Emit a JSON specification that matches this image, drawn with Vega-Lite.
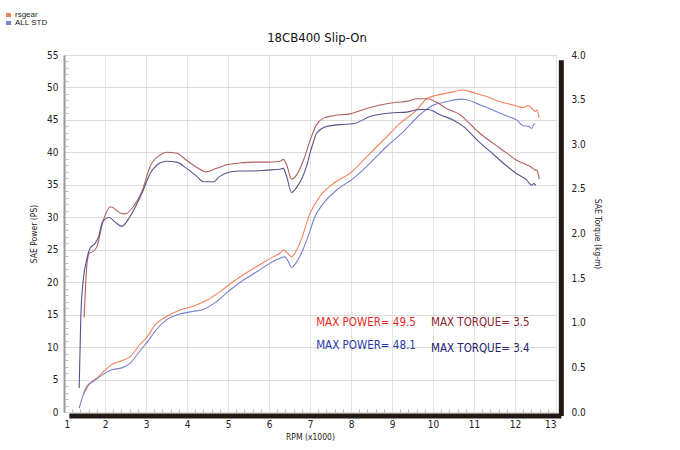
{
  "$schema": "https://vega.github.io/schema/vega-lite/v6.json",
  "width": 492,
  "height": 357,
  "autosize": "none",
  "padding": {"left": 64, "top": 55, "right": 124, "bottom": 38},
  "background": "white",
  "title": {"text": "18CB400 Slip-On", "font": "DejaVu Sans Condensed, DejaVu Sans Mono, sans-serif", "fontSize": 13, "fontWeight": "normal", "color": "#111111", "offset": 0, "dy": 34, "dx": 7, "anchor": "middle"},
  "config": {"view": {"stroke": "#aaaaaa", "strokeWidth": 1}, "font": "DejaVu Sans Condensed, DejaVu Sans Mono, sans-serif"},
  "datasets": {
    "power": [
      {"rpm": 1.47, "ps": 2.6, "series": "rsgear"}, {"rpm": 1.55, "ps": 3.6, "series": "rsgear"}, {"rpm": 1.63, "ps": 4.4, "series": "rsgear"}, {"rpm": 1.8, "ps": 5.2, "series": "rsgear"}, {"rpm": 1.96, "ps": 6.2, "series": "rsgear"}, {"rpm": 2.16, "ps": 7.3, "series": "rsgear"}, {"rpm": 2.41, "ps": 7.9, "series": "rsgear"}, {"rpm": 2.61, "ps": 8.5, "series": "rsgear"}, {"rpm": 2.85, "ps": 10.4, "series": "rsgear"}, {"rpm": 3.08, "ps": 12.0, "series": "rsgear"}, {"rpm": 3.18, "ps": 13.1, "series": "rsgear"}, {"rpm": 3.5, "ps": 14.7, "series": "rsgear"}, {"rpm": 3.83, "ps": 15.7, "series": "rsgear"}, {"rpm": 4.15, "ps": 16.3, "series": "rsgear"}, {"rpm": 4.48, "ps": 17.2, "series": "rsgear"}, {"rpm": 4.8, "ps": 18.5, "series": "rsgear"}, {"rpm": 5.13, "ps": 20.1, "series": "rsgear"}, {"rpm": 5.46, "ps": 21.5, "series": "rsgear"}, {"rpm": 5.78, "ps": 22.7, "series": "rsgear"}, {"rpm": 6.1, "ps": 23.9, "series": "rsgear"}, {"rpm": 6.27, "ps": 24.5, "series": "rsgear"}, {"rpm": 6.35, "ps": 25.0, "series": "rsgear"}, {"rpm": 6.45, "ps": 24.5, "series": "rsgear"}, {"rpm": 6.55, "ps": 23.9, "series": "rsgear"}, {"rpm": 6.68, "ps": 25.0, "series": "rsgear"}, {"rpm": 6.8, "ps": 26.8, "series": "rsgear"}, {"rpm": 7.0, "ps": 30.6, "series": "rsgear"}, {"rpm": 7.24, "ps": 33.2, "series": "rsgear"}, {"rpm": 7.57, "ps": 35.2, "series": "rsgear"}, {"rpm": 7.98, "ps": 36.8, "series": "rsgear"}, {"rpm": 8.38, "ps": 39.3, "series": "rsgear"}, {"rpm": 8.79, "ps": 41.9, "series": "rsgear"}, {"rpm": 9.2, "ps": 44.5, "series": "rsgear"}, {"rpm": 9.6, "ps": 46.5, "series": "rsgear"}, {"rpm": 9.85, "ps": 48.3, "series": "rsgear"}, {"rpm": 10.09, "ps": 48.8, "series": "rsgear"}, {"rpm": 10.41, "ps": 49.2, "series": "rsgear"}, {"rpm": 10.74, "ps": 49.6, "series": "rsgear"}, {"rpm": 10.98, "ps": 49.2, "series": "rsgear"}, {"rpm": 11.31, "ps": 48.6, "series": "rsgear"}, {"rpm": 11.63, "ps": 47.8, "series": "rsgear"}, {"rpm": 11.96, "ps": 47.3, "series": "rsgear"}, {"rpm": 12.2, "ps": 46.9, "series": "rsgear"}, {"rpm": 12.33, "ps": 47.2, "series": "rsgear"}, {"rpm": 12.41, "ps": 46.8, "series": "rsgear"}, {"rpm": 12.49, "ps": 46.3, "series": "rsgear"}, {"rpm": 12.53, "ps": 46.5, "series": "rsgear"}, {"rpm": 12.59, "ps": 45.3, "series": "rsgear"},
      {"rpm": 1.37, "ps": 0.6, "series": "ALL STD"}, {"rpm": 1.43, "ps": 1.9, "series": "ALL STD"}, {"rpm": 1.55, "ps": 3.9, "series": "ALL STD"}, {"rpm": 1.71, "ps": 4.7, "series": "ALL STD"}, {"rpm": 1.96, "ps": 5.8, "series": "ALL STD"}, {"rpm": 2.16, "ps": 6.5, "series": "ALL STD"}, {"rpm": 2.41, "ps": 6.8, "series": "ALL STD"}, {"rpm": 2.61, "ps": 7.5, "series": "ALL STD"}, {"rpm": 2.85, "ps": 9.4, "series": "ALL STD"}, {"rpm": 3.08, "ps": 11.2, "series": "ALL STD"}, {"rpm": 3.18, "ps": 12.1, "series": "ALL STD"}, {"rpm": 3.5, "ps": 14.2, "series": "ALL STD"}, {"rpm": 3.83, "ps": 15.1, "series": "ALL STD"}, {"rpm": 4.15, "ps": 15.5, "series": "ALL STD"}, {"rpm": 4.4, "ps": 15.8, "series": "ALL STD"}, {"rpm": 4.72, "ps": 17.0, "series": "ALL STD"}, {"rpm": 5.05, "ps": 18.8, "series": "ALL STD"}, {"rpm": 5.37, "ps": 20.3, "series": "ALL STD"}, {"rpm": 5.7, "ps": 21.6, "series": "ALL STD"}, {"rpm": 6.02, "ps": 22.9, "series": "ALL STD"}, {"rpm": 6.27, "ps": 23.7, "series": "ALL STD"}, {"rpm": 6.39, "ps": 23.9, "series": "ALL STD"}, {"rpm": 6.47, "ps": 23.2, "series": "ALL STD"}, {"rpm": 6.55, "ps": 22.3, "series": "ALL STD"}, {"rpm": 6.68, "ps": 23.2, "series": "ALL STD"}, {"rpm": 6.84, "ps": 25.2, "series": "ALL STD"}, {"rpm": 7.0, "ps": 27.9, "series": "ALL STD"}, {"rpm": 7.1, "ps": 29.8, "series": "ALL STD"}, {"rpm": 7.32, "ps": 32.1, "series": "ALL STD"}, {"rpm": 7.65, "ps": 34.2, "series": "ALL STD"}, {"rpm": 8.06, "ps": 36.0, "series": "ALL STD"}, {"rpm": 8.46, "ps": 38.3, "series": "ALL STD"}, {"rpm": 8.87, "ps": 40.9, "series": "ALL STD"}, {"rpm": 9.28, "ps": 43.2, "series": "ALL STD"}, {"rpm": 9.68, "ps": 45.8, "series": "ALL STD"}, {"rpm": 10.01, "ps": 47.3, "series": "ALL STD"}, {"rpm": 10.33, "ps": 47.8, "series": "ALL STD"}, {"rpm": 10.66, "ps": 48.2, "series": "ALL STD"}, {"rpm": 10.82, "ps": 48.1, "series": "ALL STD"}, {"rpm": 11.15, "ps": 47.3, "series": "ALL STD"}, {"rpm": 11.47, "ps": 46.5, "series": "ALL STD"}, {"rpm": 11.8, "ps": 45.6, "series": "ALL STD"}, {"rpm": 12.04, "ps": 45.0, "series": "ALL STD"}, {"rpm": 12.2, "ps": 44.1, "series": "ALL STD"}, {"rpm": 12.33, "ps": 44.0, "series": "ALL STD"}, {"rpm": 12.41, "ps": 43.7, "series": "ALL STD"}, {"rpm": 12.45, "ps": 44.2, "series": "ALL STD"}, {"rpm": 12.49, "ps": 44.4, "series": "ALL STD"}
    ],
    "torque": [
      {"rpm": 1.49, "kgm": 1.06, "series": "rsgear torque"}, {"rpm": 1.53, "kgm": 1.45, "series": "rsgear torque"}, {"rpm": 1.57, "kgm": 1.7, "series": "rsgear torque"}, {"rpm": 1.62, "kgm": 1.78, "series": "rsgear torque"}, {"rpm": 1.71, "kgm": 1.8, "series": "rsgear torque"}, {"rpm": 1.8, "kgm": 1.85, "series": "rsgear torque"}, {"rpm": 1.96, "kgm": 2.15, "series": "rsgear torque"}, {"rpm": 2.14, "kgm": 2.3, "series": "rsgear torque"}, {"rpm": 2.37, "kgm": 2.23, "series": "rsgear torque"}, {"rpm": 2.49, "kgm": 2.22, "series": "rsgear torque"}, {"rpm": 2.69, "kgm": 2.3, "series": "rsgear torque"}, {"rpm": 2.9, "kgm": 2.47, "series": "rsgear torque"}, {"rpm": 3.1, "kgm": 2.75, "series": "rsgear torque"}, {"rpm": 3.34, "kgm": 2.88, "series": "rsgear torque"}, {"rpm": 3.5, "kgm": 2.91, "series": "rsgear torque"}, {"rpm": 3.75, "kgm": 2.9, "series": "rsgear torque"}, {"rpm": 3.99, "kgm": 2.82, "series": "rsgear torque"}, {"rpm": 4.24, "kgm": 2.74, "series": "rsgear torque"}, {"rpm": 4.48, "kgm": 2.69, "series": "rsgear torque"}, {"rpm": 4.72, "kgm": 2.73, "series": "rsgear torque"}, {"rpm": 4.97, "kgm": 2.77, "series": "rsgear torque"}, {"rpm": 5.29, "kgm": 2.79, "series": "rsgear torque"}, {"rpm": 5.62, "kgm": 2.8, "series": "rsgear torque"}, {"rpm": 5.94, "kgm": 2.8, "series": "rsgear torque"}, {"rpm": 6.27, "kgm": 2.81, "series": "rsgear torque"}, {"rpm": 6.35, "kgm": 2.83, "series": "rsgear torque"}, {"rpm": 6.43, "kgm": 2.77, "series": "rsgear torque"}, {"rpm": 6.55, "kgm": 2.61, "series": "rsgear torque"}, {"rpm": 6.68, "kgm": 2.66, "series": "rsgear torque"}, {"rpm": 6.84, "kgm": 2.82, "series": "rsgear torque"}, {"rpm": 7.0, "kgm": 3.04, "series": "rsgear torque"}, {"rpm": 7.16, "kgm": 3.22, "series": "rsgear torque"}, {"rpm": 7.32, "kgm": 3.29, "series": "rsgear torque"}, {"rpm": 7.57, "kgm": 3.32, "series": "rsgear torque"}, {"rpm": 7.98, "kgm": 3.34, "series": "rsgear torque"}, {"rpm": 8.38, "kgm": 3.4, "series": "rsgear torque"}, {"rpm": 8.71, "kgm": 3.44, "series": "rsgear torque"}, {"rpm": 9.11, "kgm": 3.47, "series": "rsgear torque"}, {"rpm": 9.36, "kgm": 3.48, "series": "rsgear torque"}, {"rpm": 9.6, "kgm": 3.51, "series": "rsgear torque"}, {"rpm": 9.85, "kgm": 3.51, "series": "rsgear torque"}, {"rpm": 10.09, "kgm": 3.47, "series": "rsgear torque"}, {"rpm": 10.33, "kgm": 3.4, "series": "rsgear torque"}, {"rpm": 10.66, "kgm": 3.33, "series": "rsgear torque"}, {"rpm": 10.9, "kgm": 3.23, "series": "rsgear torque"}, {"rpm": 11.15, "kgm": 3.12, "series": "rsgear torque"}, {"rpm": 11.47, "kgm": 3.01, "series": "rsgear torque"}, {"rpm": 11.8, "kgm": 2.9, "series": "rsgear torque"}, {"rpm": 12.04, "kgm": 2.82, "series": "rsgear torque"}, {"rpm": 12.28, "kgm": 2.77, "series": "rsgear torque"}, {"rpm": 12.41, "kgm": 2.74, "series": "rsgear torque"}, {"rpm": 12.49, "kgm": 2.71, "series": "rsgear torque"}, {"rpm": 12.53, "kgm": 2.71, "series": "rsgear torque"}, {"rpm": 12.57, "kgm": 2.66, "series": "rsgear torque"}, {"rpm": 12.59, "kgm": 2.61, "series": "rsgear torque"},
      {"rpm": 1.37, "kgm": 0.27, "series": "ALL STD torque"}, {"rpm": 1.41, "kgm": 1.07, "series": "ALL STD torque"}, {"rpm": 1.47, "kgm": 1.48, "series": "ALL STD torque"}, {"rpm": 1.55, "kgm": 1.7, "series": "ALL STD torque"}, {"rpm": 1.63, "kgm": 1.83, "series": "ALL STD torque"}, {"rpm": 1.76, "kgm": 1.89, "series": "ALL STD torque"}, {"rpm": 1.84, "kgm": 1.96, "series": "ALL STD torque"}, {"rpm": 1.94, "kgm": 2.13, "series": "ALL STD torque"}, {"rpm": 2.1, "kgm": 2.18, "series": "ALL STD torque"}, {"rpm": 2.24, "kgm": 2.13, "series": "ALL STD torque"}, {"rpm": 2.41, "kgm": 2.08, "series": "ALL STD torque"}, {"rpm": 2.61, "kgm": 2.19, "series": "ALL STD torque"}, {"rpm": 2.9, "kgm": 2.45, "series": "ALL STD torque"}, {"rpm": 3.1, "kgm": 2.67, "series": "ALL STD torque"}, {"rpm": 3.34, "kgm": 2.79, "series": "ALL STD torque"}, {"rpm": 3.5, "kgm": 2.81, "series": "ALL STD torque"}, {"rpm": 3.75, "kgm": 2.8, "series": "ALL STD torque"}, {"rpm": 3.99, "kgm": 2.73, "series": "ALL STD torque"}, {"rpm": 4.24, "kgm": 2.64, "series": "ALL STD torque"}, {"rpm": 4.4, "kgm": 2.58, "series": "ALL STD torque"}, {"rpm": 4.64, "kgm": 2.58, "series": "ALL STD torque"}, {"rpm": 4.8, "kgm": 2.64, "series": "ALL STD torque"}, {"rpm": 5.05, "kgm": 2.69, "series": "ALL STD torque"}, {"rpm": 5.29, "kgm": 2.7, "series": "ALL STD torque"}, {"rpm": 5.62, "kgm": 2.7, "series": "ALL STD torque"}, {"rpm": 5.94, "kgm": 2.71, "series": "ALL STD torque"}, {"rpm": 6.27, "kgm": 2.72, "series": "ALL STD torque"}, {"rpm": 6.35, "kgm": 2.73, "series": "ALL STD torque"}, {"rpm": 6.43, "kgm": 2.64, "series": "ALL STD torque"}, {"rpm": 6.55, "kgm": 2.46, "series": "ALL STD torque"}, {"rpm": 6.68, "kgm": 2.52, "series": "ALL STD torque"}, {"rpm": 6.92, "kgm": 2.76, "series": "ALL STD torque"}, {"rpm": 7.0, "kgm": 2.9, "series": "ALL STD torque"}, {"rpm": 7.08, "kgm": 3.02, "series": "ALL STD torque"}, {"rpm": 7.16, "kgm": 3.12, "series": "ALL STD torque"}, {"rpm": 7.41, "kgm": 3.2, "series": "ALL STD torque"}, {"rpm": 7.73, "kgm": 3.22, "series": "ALL STD torque"}, {"rpm": 8.06, "kgm": 3.23, "series": "ALL STD torque"}, {"rpm": 8.46, "kgm": 3.31, "series": "ALL STD torque"}, {"rpm": 8.95, "kgm": 3.35, "series": "ALL STD torque"}, {"rpm": 9.36, "kgm": 3.36, "series": "ALL STD torque"}, {"rpm": 9.68, "kgm": 3.39, "series": "ALL STD torque"}, {"rpm": 9.89, "kgm": 3.39, "series": "ALL STD torque"}, {"rpm": 10.17, "kgm": 3.33, "series": "ALL STD torque"}, {"rpm": 10.5, "kgm": 3.27, "series": "ALL STD torque"}, {"rpm": 10.74, "kgm": 3.2, "series": "ALL STD torque"}, {"rpm": 11.07, "kgm": 3.05, "series": "ALL STD torque"}, {"rpm": 11.39, "kgm": 2.92, "series": "ALL STD torque"}, {"rpm": 11.71, "kgm": 2.79, "series": "ALL STD torque"}, {"rpm": 12.04, "kgm": 2.67, "series": "ALL STD torque"}, {"rpm": 12.28, "kgm": 2.6, "series": "ALL STD torque"}, {"rpm": 12.41, "kgm": 2.54, "series": "ALL STD torque"}, {"rpm": 12.46, "kgm": 2.56, "series": "ALL STD torque"}, {"rpm": 12.51, "kgm": 2.54, "series": "ALL STD torque"}
    ],
    "notes": [
      {"rpm": 7.15, "ps": 13.7, "label": "MAX POWER= 49.5", "who": "rsgear power"},
      {"rpm": 9.95, "ps": 13.7, "label": "MAX TORQUE= 3.5", "who": "rsgear torque"},
      {"rpm": 7.15, "ps": 10.2, "label": "MAX POWER= 48.1", "who": "std power"},
      {"rpm": 9.95, "ps": 9.7, "label": "MAX TORQUE= 3.4", "who": "std torque"}
    ],
    "shadow": [
      {"x1": 1.13, "x2": 13.13, "y1": -0.6, "y2": -0.6},
      {"x1": 13.13, "x2": 13.13, "y1": -0.6, "y2": 54.2}
    ]
  },
  "layer": [
    {
      "data": {"name": "power"},
      "mark": {"type": "line", "strokeWidth": 1.1, "interpolate": "monotone"},
      "encoding": {
        "x": {"field": "rpm", "type": "quantitative", "scale": {"domain": [1, 13], "nice": false},
          "axis": {"values": [1,2,3,4,5,6,7,8,9,10,11,12,13], "title": "RPM (x1000)", "titleFontSize": 8.5, "titleFontWeight": "normal", "titleColor": "#222222", "titlePadding": 3, "labelFontSize": 10, "labelColor": "#222222", "labelPadding": 7, "ticks": false, "domain": false, "grid": true, "gridColor": "#e3e3e3"}},
        "y": {"field": "ps", "type": "quantitative", "scale": {"domain": [0, 55], "nice": false},
          "axis": {"values": [0,5,10,15,20,25,30,35,40,45,50,55], "title": "SAE Power (PS)", "titleFontSize": 8.5, "titleFontWeight": "normal", "titleColor": "#222222", "titlePadding": 8, "labelFontSize": 10, "labelColor": "#222222", "labelPadding": 6, "ticks": false, "domain": true, "domainColor": "#999999", "domainWidth": 2, "grid": true, "gridColor": "#dcdcdc"}},
        "color": {"field": "series", "type": "nominal",
          "scale": {"domain": ["rsgear", "ALL STD", "rsgear torque", "ALL STD torque"], "range": ["#f4825c", "#7a80cc", "#b2605e", "#55548f"]},
          "legend": {"values": ["rsgear", "ALL STD"], "title": null, "orient": "none", "legendX": -60, "legendY": -44, "symbolType": "stroke", "symbolStrokeWidth": 4, "symbolSize": 25, "clipHeight": 8, "labelFont": "Liberation Sans", "labelFontSize": 8, "labelColor": "#222222", "rowPadding": 0, "labelOffset": 2, "padding": 0,
            "encode": {"symbols": {"update": {"stroke": {"signal": "datum.value === 'rsgear' ? '#e23b3b' : '#3c50b4'"}}}}}
        }
      }
    },
    {
      "data": {"name": "torque"},
      "mark": {"type": "line", "strokeWidth": 1.1, "interpolate": "monotone"},
      "encoding": {
        "x": {"field": "rpm", "type": "quantitative", "scale": {"domain": [1, 13], "nice": false}, "axis": null},
        "y": {"field": "kgm", "type": "quantitative", "scale": {"domain": [0, 4], "nice": false},
          "axis": {"orient": "right", "values": [0,0.5,1,1.5,2,2.5,3,3.5,4], "format": ".1f", "title": "SAE Torque (kg-m)", "titleFontSize": 8.5, "titleFontWeight": "normal", "titleColor": "#222222", "titlePadding": 7, "labelFontSize": 10, "labelColor": "#222222", "labelPadding": 15, "ticks": false, "domain": false, "grid": false}},
        "color": {"field": "series", "type": "nominal"}
      }
    },
    {
      "data": {"name": "shadow"},
      "mark": {"type": "rule", "color": "#231815", "strokeWidth": 5, "clip": false},
      "encoding": {
        "x": {"field": "x1", "type": "quantitative", "scale": {"domain": [1, 13], "nice": false},
          "axis": {"orient": "bottom", "values": [1.2,1.4,1.6,1.8,2.2,2.4,2.6,2.8,3.2,3.4,3.6,3.8,4.2,4.4,4.6,4.8,5.2,5.4,5.6,5.8,6.2,6.4,6.6,6.8,7.2,7.4,7.6,7.8,8.2,8.4,8.6,8.8,9.2,9.4,9.6,9.8,10.2,10.4,10.6,10.8,11.2,11.4,11.6,11.8,12.2,12.4,12.6,12.8], "labels": false, "title": null, "domain": false, "grid": false, "ticks": true, "tickSize": 3, "tickColor": "#bbbbbb", "offset": -3}},
        "x2": {"field": "x2"},
        "y": {"field": "y1", "type": "quantitative", "scale": {"domain": [0, 55], "nice": false},
          "axis": {"orient": "left", "values": [1,2,3,4,6,7,8,9,11,12,13,14,16,17,18,19,21,22,23,24,26,27,28,29,31,32,33,34,36,37,38,39,41,42,43,44,46,47,48,49,51,52,53,54], "labels": false, "title": null, "domain": false, "grid": false, "ticks": true, "tickSize": 3, "tickColor": "#bbbbbb", "offset": -4}},
        "y2": {"field": "y2"}
      }
    },
    {
      "data": {"name": "notes"},
      "transform": [{"filter": "datum.who === 'rsgear power'"}],
      "mark": {"type": "text", "align": "left", "baseline": "middle", "fontSize": 11.5, "color": "#e8281e"},
      "encoding": {
        "x": {"field": "rpm", "type": "quantitative", "scale": {"domain": [1, 13], "nice": false}, "axis": null},
        "y": {"field": "ps", "type": "quantitative", "scale": {"domain": [0, 55], "nice": false}, "axis": null},
        "text": {"field": "label"}
      }
    },
    {
      "data": {"name": "notes"},
      "transform": [{"filter": "datum.who === 'rsgear torque'"}],
      "mark": {"type": "text", "align": "left", "baseline": "middle", "fontSize": 11.5, "color": "#8c2430"},
      "encoding": {
        "x": {"field": "rpm", "type": "quantitative", "scale": {"domain": [1, 13], "nice": false}, "axis": null},
        "y": {"field": "ps", "type": "quantitative", "scale": {"domain": [0, 55], "nice": false}, "axis": null},
        "text": {"field": "label"}
      }
    },
    {
      "data": {"name": "notes"},
      "transform": [{"filter": "datum.who === 'std power'"}],
      "mark": {"type": "text", "align": "left", "baseline": "middle", "fontSize": 11.5, "color": "#2a3aa8"},
      "encoding": {
        "x": {"field": "rpm", "type": "quantitative", "scale": {"domain": [1, 13], "nice": false}, "axis": null},
        "y": {"field": "ps", "type": "quantitative", "scale": {"domain": [0, 55], "nice": false}, "axis": null},
        "text": {"field": "label"}
      }
    },
    {
      "data": {"name": "notes"},
      "transform": [{"filter": "datum.who === 'std torque'"}],
      "mark": {"type": "text", "align": "left", "baseline": "middle", "fontSize": 11.5, "color": "#23236e"},
      "encoding": {
        "x": {"field": "rpm", "type": "quantitative", "scale": {"domain": [1, 13], "nice": false}, "axis": null},
        "y": {"field": "ps", "type": "quantitative", "scale": {"domain": [0, 55], "nice": false}, "axis": null},
        "text": {"field": "label"}
      }
    }
  ],
  "resolve": {"scale": {"y": "independent", "x": "independent"}}
}
